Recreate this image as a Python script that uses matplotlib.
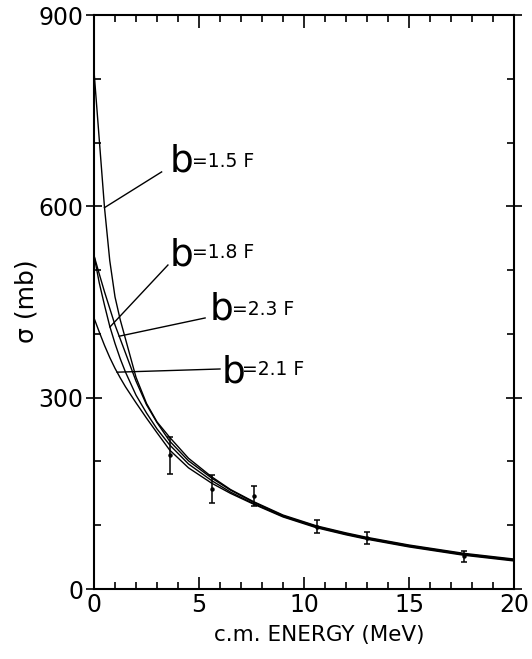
import numpy as np
import matplotlib
matplotlib.use("Agg")
import matplotlib.pyplot as plt
from matplotlib.ticker import MultipleLocator

# curve energies (MeV) and cross sections (mb)
energy = [0, 0.25, 0.5, 0.75, 1.0, 1.25, 1.5, 2.0, 2.5, 3.0, 3.6, 4.5,
          5.6, 6.5, 7.6, 9.0, 10.6, 12.0, 13.0, 15.0, 17.6, 20.0]
sigma_b15 = [812, 705, 598, 515, 458, 422, 392, 332, 291, 262, 238, 205,
             176, 156, 137, 116, 99, 88, 81, 69, 56, 47]
sigma_b23 = [523, 494, 466, 440, 414, 392, 370, 326, 289, 261, 232, 201,
             174, 155, 136, 115, 98, 87, 80, 68, 55, 46]
sigma_b18 = [523, 480, 445, 412, 385, 361, 340, 304, 276, 251, 226, 196,
             170, 152, 134, 114, 97, 86, 79, 67, 54, 45]
sigma_b21 = [425, 403, 382, 363, 346, 331, 317, 292, 268, 245, 218, 190,
             166, 150, 133, 113, 96, 85, 78, 66, 53, 44]

# measured points
e_data = [3.6, 5.6, 7.6, 10.6, 13.0, 17.6]
s_data = [210, 157, 146, 98, 80, 51]
s_err = [29, 22, 16, 10, 9, 8]

curve_names = ["1.5", "1.8", "2.3", "2.1"]
curves = [sigma_b15, sigma_b18, sigma_b23, sigma_b21]

# label layout: energy where leader touches the curve, leader end, "b" spot, "=..." spot
label_layout = [
    (0.50, (3.22, 654), (3.62, 654), (4.67, 661)),
    (0.76, (3.52, 508), (3.62, 508), (4.67, 519)),
    (1.20, (5.29, 425), (5.52, 422), (6.57, 429)),
    (1.10, (6.00, 345), (6.10, 324), (7.05, 335)),
]

fig = plt.figure(figsize=(5.32, 6.59), dpi=100)
ax = fig.add_axes([0.1767, 0.1062, 0.7895, 0.871])

for s in curves:
    ax.plot(energy, s, color="black", lw=1.0, solid_joinstyle="round")

ax.errorbar(e_data, s_data, yerr=s_err, fmt="o", ms=2.2, color="black",
            ecolor="black", elinewidth=1.1, capsize=2.5, capthick=1.1)

for name, s, (e_touch, end, bpos, eqpos) in zip(curve_names, curves, label_layout):
    y_touch = np.interp(e_touch, energy, s)
    ax.plot([e_touch, end[0]], [y_touch, end[1]], color="black", lw=1.0)
    ax.text(bpos[0], bpos[1], "b", fontsize=27, ha="left", va="baseline")
    ax.text(eqpos[0], eqpos[1], "=" + name + " F", fontsize=13.5,
            ha="left", va="baseline")

ax.set_xlim(0, 20)
ax.set_ylim(0, 900)
ax.xaxis.set_major_locator(MultipleLocator(5))
ax.xaxis.set_minor_locator(MultipleLocator(1))
ax.yaxis.set_major_locator(MultipleLocator(300))
ax.yaxis.set_minor_locator(MultipleLocator(100))

ax.tick_params(axis="x", which="major", direction="in", length=9, width=1.2,
               top=True, labelsize=17, pad=3)
ax.tick_params(axis="x", which="minor", direction="in", length=5, width=1.2,
               top=True)
ax.tick_params(axis="y", which="major", direction="inout", length=11, width=1.2,
               labelsize=17, pad=2)
ax.tick_params(axis="y", which="minor", direction="in", length=5, width=1.2,
               right=True)
ax.tick_params(axis="y", which="major", right=True)

for sp in ax.spines.values():
    sp.set_linewidth(1.5)

fig.text(0.60, 0.036, "c.m. ENERGY (MeV)", fontsize=15.5, ha="center", va="center")
fig.text(0.049, 0.543, "σ (mb)", fontsize=18, ha="center", va="center",
         rotation=90)

fig.savefig("out.png", dpi=100)
